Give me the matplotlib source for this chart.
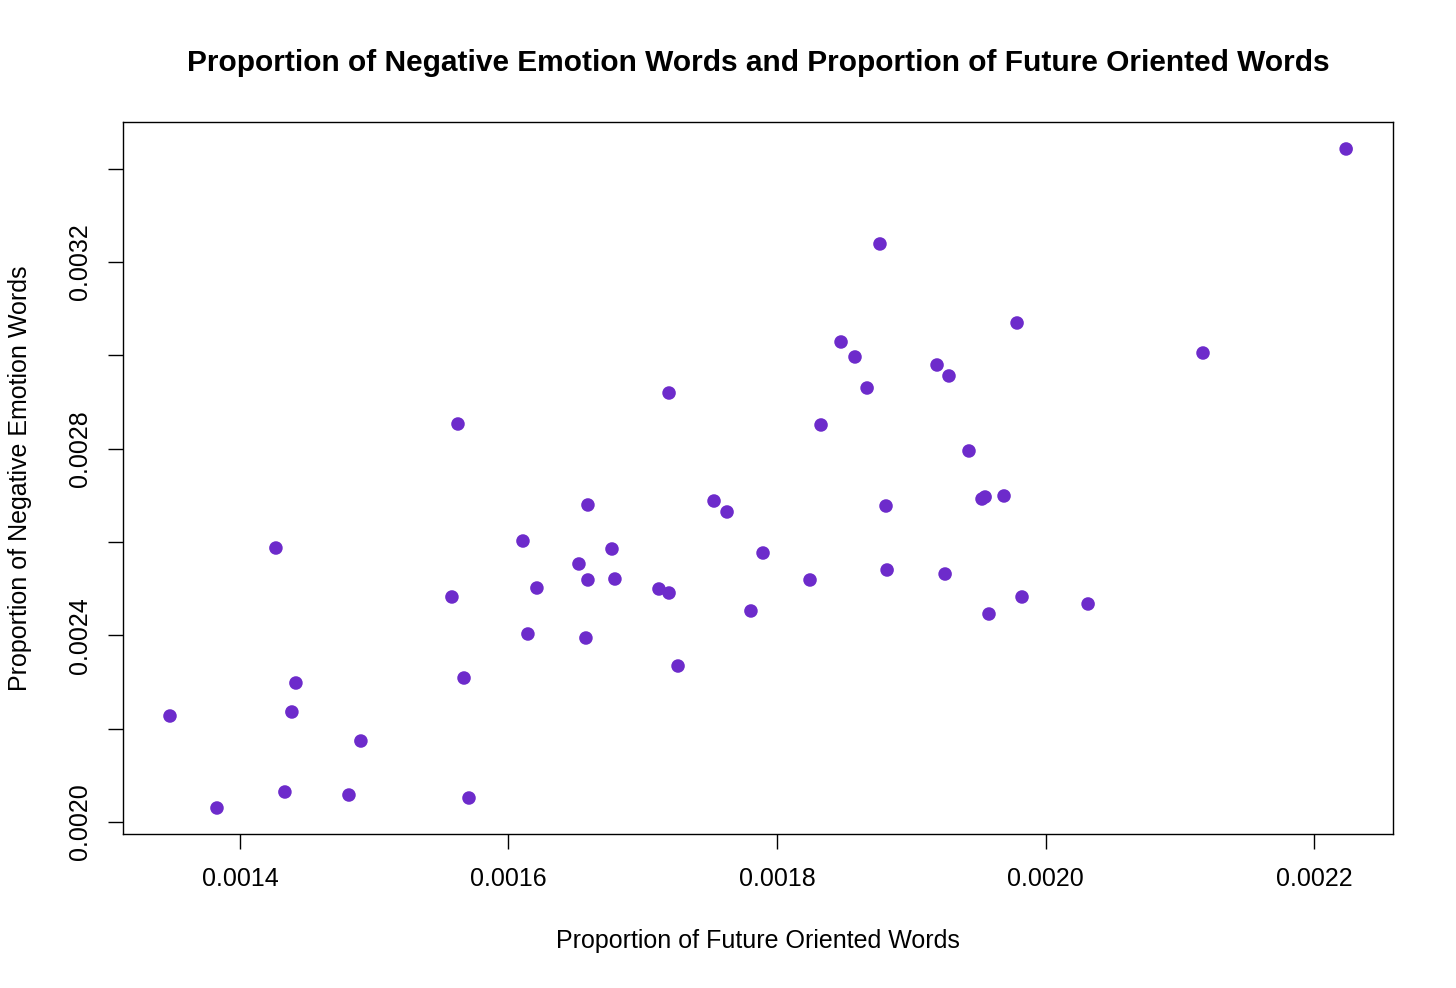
import matplotlib
matplotlib.use("Agg")
import matplotlib.pyplot as plt

future_words = [
    0.0022239, 0.0018767, 0.0019788, 0.0021173, 0.0018477, 0.0018581, 0.0019192, 0.0019281,
    0.0018671, 0.0017196, 0.0015624, 0.0018328, 0.0019430, 0.0017531, 0.0017628, 0.0016592,
    0.0018812, 0.0019527, 0.0019550, 0.0019691, 0.0014268, 0.0016108, 0.0016771, 0.0017896,
    0.0016525, 0.0016592, 0.0016793, 0.0018820, 0.0019252, 0.0018246, 0.0016212, 0.0017121,
    0.0017196, 0.0015579, 0.0019825, 0.0020317, 0.0017806, 0.0019579, 0.0016145, 0.0016577,
    0.0017263, 0.0015669, 0.0014417, 0.0014387, 0.0013479, 0.0014901, 0.0013829, 0.0014335,
    0.0014812, 0.0015706,
]
neg_emotion = [
    0.0034419, 0.0032384, 0.0030691, 0.0030048, 0.0030284, 0.0029963, 0.0029791, 0.0029556,
    0.0029298, 0.0029191, 0.0028527, 0.0028506, 0.0027949, 0.0026877, 0.0026642, 0.0026792,
    0.0026770, 0.0026920, 0.0026963, 0.0026985, 0.0025870, 0.0026020, 0.0025849, 0.0025763,
    0.0025528, 0.0025185, 0.0025206, 0.0025399, 0.0025313, 0.0025185, 0.0025013, 0.0024992,
    0.0024906, 0.0024821, 0.0024821, 0.0024671, 0.0024521, 0.0024456, 0.0024028, 0.0023942,
    0.0023342, 0.0023085, 0.0022978, 0.0022357, 0.0022271, 0.0021735, 0.0020300, 0.0020643,
    0.0020578, 0.0020514,
]

x_ticks = [0.0014, 0.0016, 0.0018, 0.0020, 0.0022]
x_labels = ["0.0014", "0.0016", "0.0018", "0.0020", "0.0022"]
y_ticks = [0.0020, 0.0022, 0.0024, 0.0026, 0.0028, 0.0030, 0.0032, 0.0034]
y_labels = ["0.0020", "", "0.0024", "", "0.0028", "", "0.0032", ""]

title = "Proportion of Negative Emotion Words and Proportion of Future Oriented Words"
xlabel = "Proportion of Future Oriented Words"
ylabel = "Proportion of Negative Emotion Words"

plt.rcParams['font.family'] = ['Liberation Sans', 'DejaVu Sans']

fig = plt.figure(figsize=(14.56, 9.88), dpi=100)
ax = fig.add_axes([123/1456, 1 - 834/988, (1393 - 123)/1456, (834 - 122)/988])

ax.scatter(future_words, neg_emotion, s=95, color='#6D2BCB', edgecolors='none', zorder=3)

ax.set_xlim(0.0013129, 0.0022588)
ax.set_ylim(0.0019743, 0.0034997)

ax.set_xticks(x_ticks)
ax.set_xticklabels(x_labels)
ax.set_yticks(y_ticks)
ax.set_yticklabels(y_labels, rotation=90, va='center')

ax.tick_params(axis='both', direction='out', length=10.5, width=1.0, labelsize=18, color='black')
ax.tick_params(axis='x', pad=13)
ax.tick_params(axis='y', pad=12)
for sp in ax.spines.values():
    sp.set_linewidth(1.0)
    sp.set_color('black')

fig.text(758/1456, 1 - 63/988, title, ha='center', va='center', fontsize=21.5, fontweight='bold')
fig.text(758/1456, 1 - 941/988, xlabel, ha='center', va='center', fontsize=18)
fig.text(20/1456, 1 - 478/988, ylabel, ha='center', va='center', rotation=90, fontsize=18)

fig.savefig("out.png", dpi=100)
